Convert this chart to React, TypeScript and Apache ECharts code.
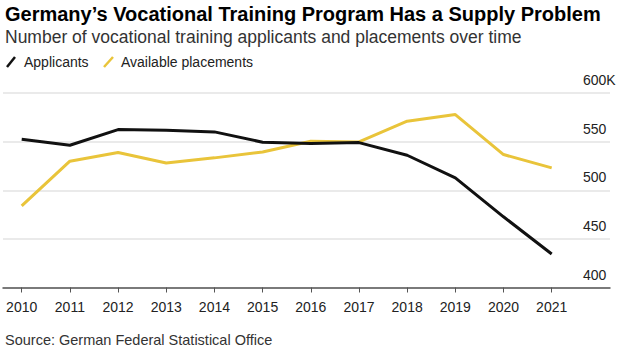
import React, { useEffect, useRef } from "react";
import * as echarts from "echarts";

const years = [2010, 2011, 2012, 2013, 2014, 2015, 2016, 2017, 2018, 2019, 2020, 2021];
const applicants = [552.5, 546.3, 562.4, 561.7, 560.0, 549.4, 548.0, 549.0, 536.0, 512.7, 472.7, 434.4];
const placements = [484.0, 529.9, 538.8, 528.1, 533.3, 539.4, 550.4, 549.7, 571.0, 577.8, 536.7, 523.0];
const yTicks = [400, 450, 500, 550, 600];

const FONT = "'Liberation Sans', Arial, sans-serif";
const BLACK = "#111111";
const YELLOW = "#e9c43a";

export default function App() {
  const ref = useRef<HTMLDivElement>(null);
  useEffect(() => {
    if (!ref.current) return;
    const chart = echarts.init(ref.current, undefined, { renderer: "svg" });
    chart.setOption({
      animation: false,
      backgroundColor: "#ffffff",
      textStyle: { fontFamily: FONT },
      graphic: [
        {
          type: "text",
          left: 5,
          top: 4,
          style: { text: "Germany’s Vocational Training Program Has a Supply Problem", fontSize: 20, fontWeight: "bold", fill: "#000", fontFamily: FONT },
        },
        {
          type: "text",
          left: 5,
          top: 28,
          style: { text: "Number of vocational training applicants and placements over time", fontSize: 17.5, fill: "#333", fontFamily: FONT },
        },
        { type: "line", shape: { x1: 7, y1: 67, x2: 15, y2: 57 }, style: { stroke: BLACK, lineWidth: 2.5 } },
        {
          type: "text",
          left: 24,
          top: 55,
          style: { text: "Applicants", fontSize: 14, fill: "#222", fontFamily: FONT },
        },
        { type: "line", shape: { x1: 104, y1: 67, x2: 113, y2: 57 }, style: { stroke: YELLOW, lineWidth: 2.5 } },
        {
          type: "text",
          left: 121,
          top: 55,
          style: { text: "Available placements", fontSize: 14, fill: "#222", fontFamily: FONT },
        },
        {
          type: "text",
          left: 5,
          top: 332,
          style: { text: "Source: German Federal Statistical Office", fontSize: 14.5, fill: "#333", fontFamily: FONT },
        },
      ],
      grid: { left: 3, top: 93, width: 607, height: 194.5, containLabel: false },
      xAxis: {
        type: "value",
        min: 2009.612,
        max: 2022.21,
        axisLine: { show: true, lineStyle: { color: "#555", width: 1.5 } },
        axisTick: { show: true, customValues: years, length: 5, lineStyle: { color: "#555", width: 1 } },
        axisLabel: {
          customValues: years,
          formatter: (v: number) => String(v),
          fontSize: 14,
          color: "#222",
          margin: 12,
          fontFamily: FONT,
        },
        splitLine: { show: false },
      },
      yAxis: {
        type: "value",
        position: "right",
        min: yTicks[0],
        max: yTicks[yTicks.length - 1],
        interval: 50,
        axisLine: { show: false },
        axisTick: { show: false },
        axisLabel: {
          inside: true,
          align: "left",
          margin: 27,
          verticalAlign: "bottom",
          padding: [0, 0, 6, 0],
          fontSize: 14,
          color: "#222",
          fontFamily: FONT,
          formatter: (v: number) => (v === 600 ? "600K" : String(v)),
        },
        splitLine: { show: true, lineStyle: { color: "#e3e3e3", width: 1.5 } },
      },
      series: [
        {
          name: "Applicants",
          type: "line",
          data: years.map((y, i) => [y, applicants[i]]),
          showSymbol: false,
          lineStyle: { color: BLACK, width: 3 },
          itemStyle: { color: BLACK },
          z: 3,
        },
        {
          name: "Available placements",
          type: "line",
          data: years.map((y, i) => [y, placements[i]]),
          showSymbol: false,
          lineStyle: { color: YELLOW, width: 3 },
          itemStyle: { color: YELLOW },
          z: 2,
        },
      ],
    });
    return () => chart.dispose();
  }, []);
  return <div ref={ref} style={{ width: 630, height: 356, position: "fixed", left: 0, top: 0 }} />;
}
